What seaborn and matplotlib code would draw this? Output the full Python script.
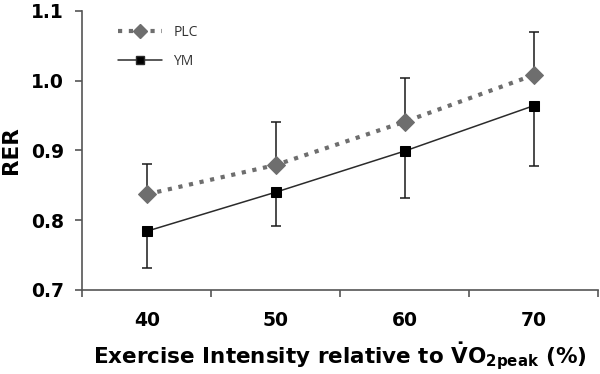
import pandas as pd
import seaborn as sns
import matplotlib.pyplot as plt
import numpy as np
from matplotlib.lines import Line2D

# data
intensity = ["40", "50", "60", "70"]
plc_mean = [0.837, 0.879, 0.941, 1.008]
plc_upper = [0.881, 0.941, 1.004, 1.070]
ym_mean = [0.784, 0.840, 0.899, 0.964]
ym_lower = [0.731, 0.792, 0.831, 0.878]

sns.set_style("ticks")
plt.rcParams['font.family'] = ['DejaVu Sans']
plt.rcParams['text.color'] = 'black'
plt.rcParams['axes.labelcolor'] = 'black'
plt.rcParams['xtick.labelcolor'] = 'black'
plt.rcParams['ytick.labelcolor'] = 'black'
plt.rcParams['mathtext.fontset'] = 'custom'
plt.rcParams['mathtext.bf'] = 'DejaVu Sans:bold'
plt.rcParams['mathtext.rm'] = 'DejaVu Sans:bold'

df = pd.DataFrame({
    "intensity": intensity * 2,
    "RER": plc_mean + ym_mean,
    "group": ["PLC"] * 4 + ["YM"] * 4,
})

fig = plt.figure(figsize=(6, 3.74), dpi=100)
ax = fig.add_axes([0.137, 0.225, 0.86, 0.746])

x = np.arange(len(intensity))

# one-sided error bars (PLC up, YM down)
ax.errorbar(x, plc_mean, yerr=[np.zeros(4), np.array(plc_upper) - np.array(plc_mean)],
            fmt="none", ecolor="#1a1a1a", elinewidth=1.1, capsize=3.5, capthick=1.1, zorder=1)
ax.errorbar(x, ym_mean, yerr=[np.array(ym_mean) - np.array(ym_lower), np.zeros(4)],
            fmt="none", ecolor="#1a1a1a", elinewidth=1.1, capsize=3.5, capthick=1.1, zorder=1)

plc = df[df.group == "PLC"]
ym = df[df.group == "YM"]
sns.lineplot(x=x, y=plc["RER"].values, ax=ax, color="#6e6e6e", linestyle=(0, (1, 1.6)),
             linewidth=3, marker="D", markersize=9, markeredgecolor="#6e6e6e", zorder=3)
sns.lineplot(x=x, y=ym["RER"].values, ax=ax, color="#2b2b2b", linestyle="-",
             linewidth=1.1, marker="s", markersize=7, markerfacecolor="black",
             markeredgecolor="black", zorder=3)

ax.set_xlim(-0.5, 3.5)
ax.set_ylim(0.7, 1.1)
ax.set_yticks([0.7, 0.8, 0.9, 1.0, 1.1])
ax.set_yticklabels(["0.7", "0.8", "0.9", "1.0", "1.1"])

# ticks between categories, labels centred on categories
ax.set_xticks(np.arange(-0.5, 4, 1))
ax.set_xticklabels([])
ax.set_xticks(x, minor=True)
ax.set_xticklabels(intensity, minor=True)
ax.tick_params(axis="x", which="minor", length=0, pad=15)
ax.tick_params(axis="both", which="major", length=5, width=1.2, color="#555555")
for lab in ax.get_xticklabels(minor=True) + ax.get_yticklabels():
    lab.set_fontsize(13.5)
    lab.set_fontweight("bold")
    lab.set_color("black")
ax.tick_params(axis="y", pad=8)

for side in ["top", "right"]:
    ax.spines[side].set_visible(False)
for side in ["left", "bottom"]:
    ax.spines[side].set_color("#555555")
    ax.spines[side].set_linewidth(1.2)

ax.set_ylabel("RER", fontsize=15.5, fontweight="bold", labelpad=7, color="black")
ax.set_xlabel(r"Exercise Intensity relative to $\mathbf{\dot{V}O_{2peak}}$ (%)",
              fontsize=15.5, fontweight="bold", labelpad=8, color="black")

handles = [
    Line2D([], [], color="#6e6e6e", linestyle=(0, (1, 1.6)), linewidth=3,
           marker="D", markersize=7),
    Line2D([], [], color="#2b2b2b", linestyle="-", linewidth=1.1,
           marker="s", markersize=6, markerfacecolor="black"),
]
leg = ax.legend(handles, ["PLC", "YM"], loc="upper left", bbox_to_anchor=(0.045, 0.995),
                frameon=False, fontsize=10, handlelength=3.2, labelspacing=1.0)
for t in leg.get_texts():
    t.set_color("#333333")
    t.set_family(["Open Sans", "DejaVu Sans"])

fig.savefig("out.png", dpi=100)
